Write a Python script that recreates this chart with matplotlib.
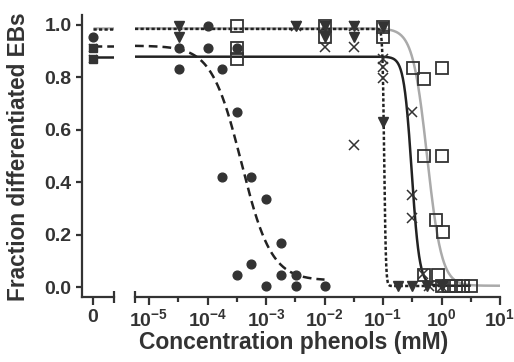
import matplotlib
matplotlib.use('Agg')
import matplotlib.pyplot as plt
from matplotlib.ticker import FixedLocator, NullFormatter
import numpy as np

plt.rcParams['font.family'] = 'Liberation Sans'
plt.rcParams['font.weight'] = 'bold'
plt.rcParams['mathtext.fontset'] = 'custom'
plt.rcParams['mathtext.bf'] = 'Liberation Sans:bold'
plt.rcParams['mathtext.rm'] = 'Liberation Sans:bold'

TXT = '#333333'
DARK = '#333333'
GRAY = '#aaaaaa'

# control (0 mM) points
ctrl_circle_y = [0.955]
ctrl_mixed_y = [0.913, 0.870]

# circles (dashed fit)
circ_x = [3.2e-5, 3.2e-5, 1e-4, 1e-4, 1.8e-4, 1.8e-4, 3.2e-4, 3.2e-4, 3.2e-4,
          5.6e-4, 5.6e-4, 1e-3, 1e-3, 1.8e-3, 1.8e-3, 3.2e-3, 3.2e-3, 1e-2]
circ_y = [0.913, 0.831, 0.997, 0.913, 0.831, 0.419, 0.913, 0.667, 0.046,
          0.419, 0.088, 0.336, 0.005, 0.169, 0.046, 0.046, 0.005, 0.005]

# triangles (dotted fit)
tri_x = [3.2e-5, 3.2e-5, 3.2e-3, 1e-2, 1e-2, 3.2e-2, 3.2e-2, 0.1, 0.1,
         0.178, 0.316, 0.562, 1.0]
tri_y = [0.997, 0.955, 0.997, 0.997, 0.955, 0.997, 0.955, 0.994, 0.630,
         0.004, 0.004, 0.004, 0.004]

# crosses (solid black fit)
cross_x = [3.2e-3, 1e-2, 1e-2, 3.2e-2, 3.2e-2, 3.2e-2, 0.1, 0.1, 0.1,
           0.316, 0.316, 0.316, 0.48, 0.6, 1.0]
cross_y = [0.997, 0.997, 0.917, 0.997, 0.917, 0.542, 0.870, 0.840, 0.797,
           0.669, 0.351, 0.262, 0.050, 0.004, 0.0]

# squares (grey fit)
sq_x = [3.2e-4, 3.2e-4, 3.2e-4, 1e-2, 1e-2, 0.1, 0.1, 0.33, 0.5, 0.5, 0.5,
        0.8, 0.87, 1.0, 1.0, 1.08, 1.0, 1.33, 1.78, 2.37, 3.16]
sq_y = [0.997, 0.913, 0.869, 0.997, 0.955, 0.994, 0.953, 0.835, 0.793, 0.501,
        0.046, 0.256, 0.046, 0.835, 0.501, 0.211, 0.004, 0.004, 0.004, 0.004, 0.004]

# fitted curves: top, bottom, log10 EC50, hill slope, x range
fit_circ = (0.921, 0.025, -3.42, 1.7, (10**-5.24, 1e-2))
fit_tri = (0.985, 0.004, -0.98, 30.0, (10**-5.24, 1.0))
fit_cross = (0.879, 0.005, -0.51, 6.5, (10**-5.24, 3.16))
fit_sq = (0.987, 0.005, -0.245, 3.5, (10**-5.24, 10.0))


def hill(fit):
    top, bottom, logec, h, (x0, x1) = fit
    x = np.logspace(np.log10(x0), np.log10(x1), 600)
    return x, bottom + (top - bottom) / (1 + (x / 10**logec) ** h)


fig = plt.figure(figsize=(5.14, 3.62), dpi=100)
ax0 = fig.add_axes([82/514, 65/362, 32/514, 282/362])
ax1 = fig.add_axes([135/514, 65/362, 365/514, 282/362])

ylim = (-0.038, 1.038)
for ax in (ax0, ax1):
    ax.set_ylim(*ylim)
    ax.spines['top'].set_visible(False)
    ax.spines['right'].set_visible(False)
    for s in ax.spines.values():
        s.set_linewidth(1.6)
        s.set_color(DARK)
    ax.tick_params(colors=DARK, labelcolor=TXT, labelsize=14, width=1.6)
ax1.spines['left'].set_visible(False)

mk = dict(ls='none', color=DARK, clip_on=False, zorder=3)
line_kw = dict(lw=1.8, solid_capstyle='butt')

# fitted lines
xs, ys = hill(fit_sq)
ax1.plot(xs, ys, color=GRAY, zorder=1, **line_kw)
xs, ys = hill(fit_cross)
ax1.plot(xs, ys, color='#222222', zorder=2, **line_kw)
xs, ys = hill(fit_circ)
ax1.plot(xs, ys, color='#222222', ls=(0, (3.5, 2)), zorder=2, lw=1.8)
xs, ys = hill(fit_tri)
ax1.plot(xs, ys, color='#222222', ls=(0, (1.3, 0.9)), zorder=2, lw=1.8)

# plateaus in the control section
ax0.plot([0, 1], [fit_sq[0]] * 2, color=GRAY, **line_kw)
ax0.plot([0, 1], [fit_tri[0]] * 2, color='#222222', ls=(0, (1.3, 0.9)), lw=1.8)
ax0.plot([0, 1], [fit_circ[0]] * 2, color='#222222', ls=(0, (3.5, 2)), lw=1.8)
ax0.plot([0, 1], [fit_cross[0]] * 2, color='#222222', **line_kw)

# markers
ax1.plot(circ_x, circ_y, marker='o', ms=6.3, **mk)
ax1.plot(tri_x, tri_y, marker='v', ms=6.5, **mk)
ax1.plot(cross_x, cross_y, marker='x', ms=6.5, mew=1.1, **mk)
ax1.plot(sq_x, sq_y, marker='s', ms=8.5, mfc='none', mew=1.3, **mk)

ax0.plot([0], ctrl_circle_y, marker='o', ms=6.3, **mk)
ax0.plot([0] * 2, ctrl_mixed_y, marker='s', ms=6, **mk)
ax0.plot([0] * 2, ctrl_mixed_y, marker='x', ms=6, mew=1.1, **mk)

# axes & ticks
ax0.set_xlim(-0.524, 1)
ax0.set_xticks([0])
ax0.set_xticklabels(['0'])
ax0.set_yticks([0, 0.2, 0.4, 0.6, 0.8, 1.0])
ax0.set_yticklabels(['0.0', '0.2', '0.4', '0.6', '0.8', '1.0'])
ax0.tick_params(axis='y', length=4.5, pad=3)
ax0.tick_params(axis='x', length=6, pad=3)

ax1.set_xscale('log')
ax1.set_xlim(10**-5.24, 10)
ax1.set_yticks([])
decades = list(range(-5, 2))
ax1.xaxis.set_major_locator(FixedLocator([10.0**k for k in decades]))
ax1.xaxis.set_minor_locator(FixedLocator([10.0**(k + 0.5) for k in decades[:-1]]))
ax1.xaxis.set_minor_formatter(NullFormatter())
ax1.set_xticklabels([r'$\mathbf{10^{%d}}$' % k for k in decades])
ax1.tick_params(axis='x', which='major', length=6, pad=2)
ax1.tick_params(axis='x', which='minor', length=3.5, width=1.6, colors=DARK)

# break caps on the x axis
ax0.plot([1], [0], marker='|', ms=9, mew=1.6, color=DARK, transform=ax0.transAxes, clip_on=False)
ax1.plot([0], [0], marker='|', ms=9, mew=1.6, color=DARK, transform=ax1.transAxes, clip_on=False)

fig.text(294/514, 1 - 343/362, 'Concentration phenols (mM)', ha='center', va='center',
         fontsize=16.5, fontweight='bold', color=TXT)
fig.text(19/514, 1 - 157/362, 'Fraction differentiated EBs', ha='center', va='center',
         rotation=90, fontsize=16.3, fontweight='bold', color=TXT)

fig.savefig('out.png', dpi=100)
